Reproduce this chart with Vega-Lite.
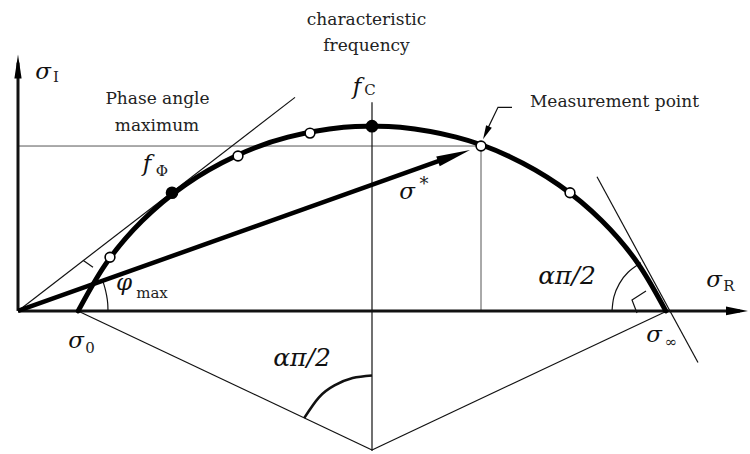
{
  "$schema": "https://vega.github.io/schema/vega-lite/v6.json",
  "width": 750,
  "height": 454,
  "autosize": {"type": "fit", "contains": "padding"},
  "padding": 0,
  "background": "white",
  "config": {"view": {"stroke": null}},
  "encoding": {
    "x": {"field": "x", "type": "quantitative", "scale": {"domain": [-18, 732], "nice": false, "zero": false}, "axis": null},
    "y": {"field": "y", "type": "quantitative", "scale": {"domain": [-141, 313], "nice": false, "zero": false}, "axis": null}
  },
  "layer": [
    {
      "description": "Guide lines from the measurement point to both axes",
      "data": {"values": [
        {"seg": "h", "k": 0, "x": 0, "y": 166}, {"seg": "h", "k": 1, "x": 463, "y": 166},
        {"seg": "v", "k": 0, "x": 463, "y": 166}, {"seg": "v", "k": 1, "x": 463, "y": 0}
      ]},
      "mark": {"type": "line", "stroke": "#555", "strokeWidth": 1},
      "encoding": {"detail": {"field": "seg"}, "order": {"field": "k"}}
    },
    {
      "description": "Thin construction lines: tangents, radii, centre line, leader",
      "data": {"values": [
        {"seg": "tan0", "k": 0, "x": 0, "y": 0}, {"seg": "tan0", "k": 1, "x": 277, "y": 215},
        {"seg": "r0", "k": 0, "x": 60, "y": 0}, {"seg": "r0", "k": 1, "x": 354, "y": -140},
        {"seg": "r1", "k": 0, "x": 649, "y": 0}, {"seg": "r1", "k": 1, "x": 354, "y": -140},
        {"seg": "vert", "k": 0, "x": 354, "y": 210}, {"seg": "vert", "k": 1, "x": 354, "y": -141},
        {"seg": "tan1", "k": 0, "x": 579, "y": 135}, {"seg": "tan1", "k": 1, "x": 680, "y": -52},
        {"seg": "lead", "k": 0, "x": 494, "y": 205}, {"seg": "lead", "k": 1, "x": 480, "y": 205}, {"seg": "lead", "k": 2, "x": 468, "y": 180},
        {"seg": "ra0", "k": 0, "x": 65, "y": 51}, {"seg": "ra0", "k": 1, "x": 75, "y": 44},
        {"seg": "ra1", "k": 0, "x": 628, "y": 20}, {"seg": "ra1", "k": 1, "x": 614, "y": 11}, {"seg": "ra1", "k": 2, "x": 619, "y": -2}
      ]},
      "mark": {"type": "line", "stroke": "#111", "strokeWidth": 1.2},
      "encoding": {"detail": {"field": "seg"}, "order": {"field": "k"}}
    },
    {
      "description": "Angle arcs for phi max and alpha pi / 2 at sigma infinity",
      "data": {"values": [
        {"seg": "phi", "k": 0, "x": 90, "y": 0}, {"seg": "phi", "k": 1, "x": 89.7, "y": 7.8}, {"seg": "phi", "k": 2, "x": 88.6, "y": 15.6}, {"seg": "phi", "k": 3, "x": 86.9, "y": 23.3}, {"seg": "phi", "k": 4, "x": 84.7, "y": 30.3},
        {"seg": "inf", "k": 0, "x": 594, "y": 0}, {"seg": "inf", "k": 1, "x": 595.9, "y": 14.2}, {"seg": "inf", "k": 2, "x": 601.4, "y": 27.5}, {"seg": "inf", "k": 3, "x": 610.1, "y": 38.9}, {"seg": "inf", "k": 4, "x": 622.8, "y": 48.4}
      ]},
      "mark": {"type": "line", "stroke": "#111", "strokeWidth": 1.2, "interpolate": "natural"},
      "encoding": {"detail": {"field": "seg"}, "order": {"field": "k"}}
    },
    {
      "description": "Angle arc at the circle centre",
      "data": {"values": [
        {"k": 0, "x": 354, "y": -65}, {"k": 1, "x": 334.6, "y": -67.6}, {"k": 2, "x": 316.5, "y": -75}, {"k": 3, "x": 301, "y": -87}, {"k": 4, "x": 286.3, "y": -107.7}
      ]},
      "mark": {"type": "line", "stroke": "#111", "strokeWidth": 2.6, "interpolate": "natural"},
      "encoding": {"order": {"field": "k"}}
    },
    {
      "description": "Axes",
      "data": {"values": [
        {"seg": "x", "k": 0, "x": 0, "y": 0}, {"seg": "x", "k": 1, "x": 722, "y": 0},
        {"seg": "y", "k": 0, "x": 0, "y": 0}, {"seg": "y", "k": 1, "x": 0, "y": 250}
      ]},
      "mark": {"type": "line", "stroke": "#111", "strokeWidth": 3},
      "encoding": {"detail": {"field": "seg"}, "order": {"field": "k"}}
    },
    {
      "description": "Cole-Cole arc from sigma 0 to sigma infinity",
      "data": {"values": [
        {"k": 0, "x": 60.2, "y": 0}, {"k": 1, "x": 87.8, "y": 47.4}, {"k": 2, "x": 124.2, "y": 90.8},
        {"k": 3, "x": 167.6, "y": 127.2}, {"k": 4, "x": 216.7, "y": 155.5}, {"k": 5, "x": 269.9, "y": 174.9},
        {"k": 6, "x": 325.7, "y": 184.8}, {"k": 7, "x": 354, "y": 186}, {"k": 8, "x": 382.3, "y": 184.8},
        {"k": 9, "x": 438.1, "y": 174.9}, {"k": 10, "x": 491.3, "y": 155.5}, {"k": 11, "x": 540.4, "y": 127.2},
        {"k": 12, "x": 583.8, "y": 90.8}, {"k": 13, "x": 620.2, "y": 47.4}, {"k": 14, "x": 647.8, "y": 0}
      ]},
      "mark": {"type": "line", "stroke": "#000", "strokeWidth": 5, "interpolate": "natural", "strokeCap": "round"},
      "encoding": {"order": {"field": "k"}}
    },
    {
      "description": "Complex conductivity vector sigma*",
      "data": {"values": [{"k": 0, "x": 0, "y": 0}, {"k": 1, "x": 428, "y": 153.5}]},
      "mark": {"type": "line", "stroke": "#000", "strokeWidth": 4.5},
      "encoding": {"order": {"field": "k"}}
    },
    {
      "data": {"values": [{"x": 436, "y": 156.3}]},
      "mark": {"type": "point", "shape": "M1,0L-1,-0.3L-1,0.3Z", "size": 1156, "filled": true, "color": "#000", "opacity": 1, "angle": -19.7}
    },
    {
      "data": {"values": [{"x": 719, "y": 0}]},
      "mark": {"type": "point", "shape": "M1,0L-1,-0.4L-1,0.4Z", "size": 484, "filled": true, "color": "#000", "opacity": 1, "angle": 0}
    },
    {
      "data": {"values": [{"x": 0, "y": 246}]},
      "mark": {"type": "point", "shape": "M1,0L-1,-0.3L-1,0.3Z", "size": 576, "filled": true, "color": "#000", "opacity": 1, "angle": -90}
    },
    {
      "data": {"values": [{"x": 468, "y": 179.3}]},
      "mark": {"type": "point", "shape": "M1,0L-1,-0.45L-1,0.45Z", "size": 196, "filled": true, "color": "#000", "opacity": 1, "angle": 115}
    },
    {
      "description": "Frequency points on the arc (open)",
      "data": {"values": [
        {"x": 92, "y": 54}, {"x": 220, "y": 156}, {"x": 292, "y": 179}, {"x": 463, "y": 166}, {"x": 552, "y": 119}
      ]},
      "mark": {"type": "point", "shape": "circle", "size": 95, "filled": true, "fill": "white", "stroke": "#000", "strokeWidth": 1.6, "opacity": 1}
    },
    {
      "description": "f_Phi and f_C (filled)",
      "data": {"values": [{"x": 154, "y": 119}, {"x": 354, "y": 186}]},
      "mark": {"type": "point", "shape": "circle", "size": 160, "filled": true, "color": "#000", "opacity": 1}
    },
    {
      "data": {"values": [
        {"x": 348.5, "y": 293, "t": "characteristic"},
        {"x": 348.5, "y": 267, "t": "frequency"},
        {"x": 139.5, "y": 213, "t": "Phase angle"},
        {"x": 139, "y": 186, "t": "maximum"},
        {"x": 596.5, "y": 210, "t": "Measurement point"}
      ]},
      "mark": {"type": "text", "font": "DejaVu Serif", "fontSize": 17, "color": "#222", "align": "center", "baseline": "middle"},
      "encoding": {"text": {"field": "t"}}
    },
    {
      "data": {"values": [
        {"x": 25, "y": 241, "t": "σ"},
        {"x": 389, "y": 120, "t": "σ"},
        {"x": 58, "y": -30, "t": "σ"},
        {"x": 636, "y": -24, "t": "σ"},
        {"x": 696, "y": 31, "t": "σ"}
      ]},
      "mark": {"type": "text", "font": "DejaVu Serif", "fontStyle": "italic", "fontSize": 23, "color": "#111", "align": "center", "baseline": "middle"},
      "encoding": {"text": {"field": "t"}}
    },
    {
      "data": {"values": [
        {"x": 339, "y": 225, "t": "f"},
        {"x": 129, "y": 148, "t": "f"},
        {"x": 106, "y": 28, "t": "φ"}
      ]},
      "mark": {"type": "text", "font": "DejaVu Serif", "fontStyle": "italic", "fontSize": 23, "color": "#111", "align": "center", "baseline": "middle"},
      "encoding": {"text": {"field": "t"}}
    },
    {
      "data": {"values": [
        {"x": 549, "y": 35, "t": "απ/2"},
        {"x": 284, "y": -47, "t": "απ/2"}
      ]},
      "mark": {"type": "text", "font": "DejaVu Serif", "fontStyle": "italic", "fontSize": 25, "color": "#111", "align": "center", "baseline": "middle"},
      "encoding": {"text": {"field": "t"}}
    },
    {
      "data": {"values": [
        {"x": 38, "y": 235, "t": "I"},
        {"x": 352, "y": 222, "t": "C"},
        {"x": 144, "y": 141, "t": "Φ"},
        {"x": 134, "y": 18, "t": "max"},
        {"x": 72, "y": -37, "t": "0"},
        {"x": 653, "y": -31, "t": "∞"},
        {"x": 711, "y": 25, "t": "R"}
      ]},
      "mark": {"type": "text", "font": "DejaVu Serif", "fontSize": 15, "color": "#222", "align": "center", "baseline": "middle"},
      "encoding": {"text": {"field": "t"}}
    },
    {
      "data": {"values": [{"x": 406, "y": 127, "t": "*"}]},
      "mark": {"type": "text", "font": "DejaVu Serif", "fontSize": 18, "color": "#222", "align": "center", "baseline": "middle"},
      "encoding": {"text": {"field": "t"}}
    }
  ]
}
